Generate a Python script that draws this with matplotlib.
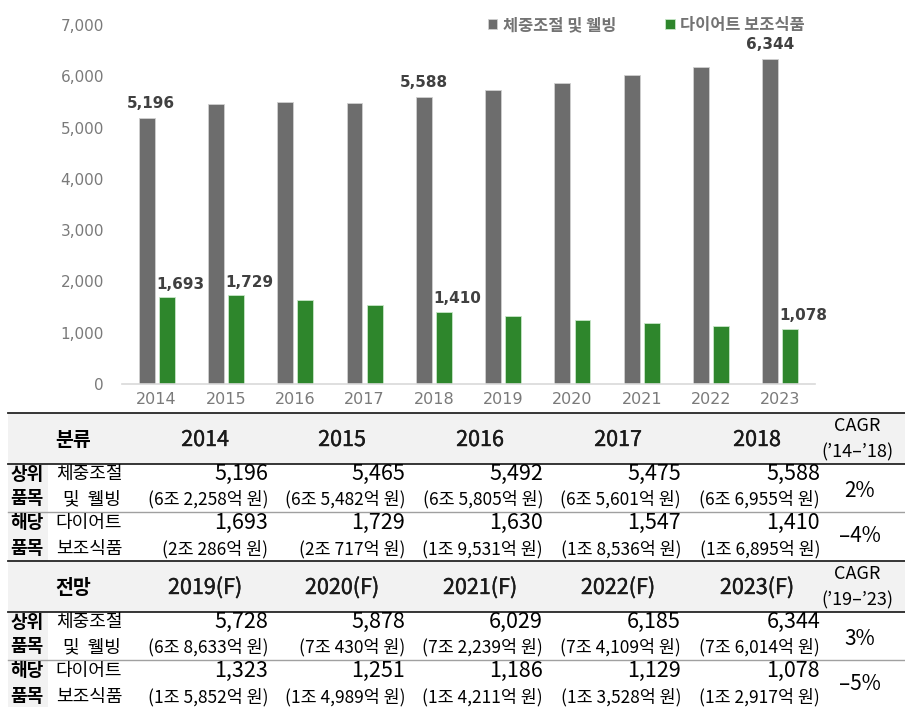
import matplotlib.pyplot as plt
import matplotlib.patheffects as pe
import numpy as np
from matplotlib.patches import Rectangle

years = [2014, 2015, 2016, 2017, 2018, 2019, 2020, 2021, 2022, 2023]
weight_mgmt = [5196, 5465, 5492, 5475, 5588, 5728, 5878, 6029, 6185, 6344]
diet_supp = [1693, 1729, 1630, 1547, 1410, 1323, 1251, 1186, 1129, 1078]
weight_won = ['6조 2,258억 원', '6조 5,482억 원', '6조 5,805억 원', '6조 5,601억 원', '6조 6,955억 원',
              '6조 8,633억 원', '7조 430억 원', '7조 2,239억 원', '7조 4,109억 원', '7조 6,014억 원']
diet_won = ['2조 286억 원', '2조 717억 원', '1조 9,531억 원', '1조 8,536억 원', '1조 6,895억 원',
            '1조 5,852억 원', '1조 4,989억 원', '1조 4,211억 원', '1조 3,528억 원', '1조 2,917억 원']
series_names = ['체중조절 및 웰빙', '다이어트 보조식품']
block_titles = ['분류', '전망']
cagr_periods = ['(’14–’18)', '(’19–’23)']
cagr_weight = ['2%', '3%']
cagr_diet = ['–4%', '–5%']
gray_labeled = [0, 4, 9]
green_labeled = [0, 1, 4, 9]

GRAY = '#6d6d6d'
GREEN = '#2e862c'
KR = 'Noto Sans CJK KR'
medium = [pe.withStroke(linewidth=0.3, foreground='#1a1a1a')]

W, H = 905, 707
fig = plt.figure(figsize=(W / 100, H / 100), dpi=100)

# ---- bar chart ----
ax = fig.add_axes([122 / W, 1 - 384 / H, (815 - 122) / W, (384 - 25) / H])
x = np.arange(len(years))
bw = 0.23
gap = 0.03
gbars = ax.bar(x - bw / 2 - gap, weight_mgmt, bw, color=GRAY, edgecolor='#d0d0d0', linewidth=0.6,
               label=series_names[0])
cbars = ax.bar(x + bw / 2 + gap, diet_supp, bw, color=GREEN, edgecolor='#c8e6c8', linewidth=0.6,
               label=series_names[1])
ax.set_xlim(-0.5, len(years) - 0.5)
ax.set_ylim(0, 7000)
ax.set_yticks(range(0, 7001, 1000))
ax.set_yticklabels([f'{v:,}' for v in range(0, 7001, 1000)])
ax.set_xticks(x)
ax.set_xticklabels([str(y) for y in years])
ax.tick_params(axis='y', length=0, pad=13, labelsize=11, labelcolor='#7a7a7a')
ax.tick_params(axis='x', length=0, pad=6, labelsize=11.5, labelcolor='#7a7a7a')
for s in ['top', 'right', 'left']:
    ax.spines[s].set_visible(False)
ax.spines['bottom'].set_color('#d9d9d9')
ax.spines['bottom'].set_linewidth(1.2)

for i in gray_labeled:
    b = gbars[i]
    ax.annotate(f'{weight_mgmt[i]:,}', (b.get_x() + b.get_width() / 2, b.get_height()),
                xytext=(3 if i == 0 else 0, 5), textcoords='offset points', ha='center', va='bottom',
                fontsize=11, fontweight='bold', color='#404040')
for i in green_labeled:
    b = cbars[i]
    ax.annotate(f'{diet_supp[i]:,}', (b.get_x(), b.get_height()),
                xytext=(-2, 4), textcoords='offset points', ha='left', va='bottom',
                fontsize=11, fontweight='bold', color='#404040')

fig.legend(handles=[gbars, cbars], labels=series_names, loc='center left',
           bbox_to_anchor=(480 / W, 1 - 25 / H), ncol=2, frameon=False, borderpad=0,
           handlelength=0.55, handleheight=0.55, handletextpad=0.35, columnspacing=3.0,
           prop=dict(family=KR, weight='bold', size=11.8), labelcolor='#737373')

# ---- table ----
tb = fig.add_axes([0, 0, 1, 1])
tb.set_xlim(0, W)
tb.set_ylim(H, 0)
tb.axis('off')
tb.patch.set_alpha(0)

hdr_cx = [205, 342, 480, 618, 757]
val_rx = [c + 63 for c in hdr_cx]
cagr_cx = 860

for blk in range(2):
    base = 413 + 148 * blk
    end = base + 148 if blk == 0 else H
    tb.add_patch(Rectangle((8, base), W - 8, 51, color='#f2f2f2', lw=0))
    tb.add_patch(Rectangle((8, base + 51), 40, end - base - 51, color='#f2f2f2', lw=0))
    tb.plot([8, W], [base, base], color='#262626', lw=1.3)
    tb.plot([8, W], [base + 51, base + 51], color='#262626', lw=1.3)
    tb.plot([8, W], [base + 99, base + 99], color='#a0a0a0', lw=1.0)

    yh = base + 27
    tb.text(73, yh, block_titles[blk], family=KR, weight='bold', fontsize=14, ha='center', va='center')
    idx = range(blk * 5, blk * 5 + 5)
    for k, i in enumerate(idx):
        lab = str(years[i]) if blk == 0 else f'{years[i]}(F)'
        tb.text(hdr_cx[k], yh, lab, family=KR, fontsize=15.5, ha='center', va='center',
                color='#1a1a1a', path_effects=medium)
        tb.text(val_rx[k], base + 61, f'{weight_mgmt[i]:,}', family=KR, fontsize=15.5, ha='right', va='center')
        tb.text(val_rx[k], base + 86, f'({weight_won[i]})', family=KR, fontsize=12.5, ha='right', va='center')
        tb.text(val_rx[k], base + 110, f'{diet_supp[i]:,}', family=KR, fontsize=15.5, ha='right', va='center')
        tb.text(val_rx[k], base + 136, f'({diet_won[i]})', family=KR, fontsize=12.5, ha='right', va='center')
    tb.text(cagr_cx - 3, base + 13, 'CAGR', family=KR, fontsize=13, ha='center', va='center')
    tb.text(cagr_cx - 3, base + 39, cagr_periods[blk], family=KR, fontsize=13, ha='center', va='center')
    tb.text(cagr_cx, base + 78, cagr_weight[blk], family=KR, fontsize=15, ha='center', va='center')
    tb.text(cagr_cx, base + 123, cagr_diet[blk], family=KR, fontsize=15, ha='center', va='center')

    tb.text(27, base + 61, '상위', family=KR, weight='bold', fontsize=13, ha='center', va='center')
    tb.text(27, base + 86, '품목', family=KR, weight='bold', fontsize=13, ha='center', va='center')
    tb.text(27, base + 110, '해당', family=KR, weight='bold', fontsize=13, ha='center', va='center')
    tb.text(27, base + 136, '품목', family=KR, weight='bold', fontsize=13, ha='center', va='center')
    tb.text(89, base + 61, '체중조절', family=KR, fontsize=13, ha='center', va='center')
    tb.text(92, base + 86, '및  웰빙', family=KR, fontsize=13, ha='center', va='center')
    tb.text(89, base + 110, '다이어트', family=KR, fontsize=13, ha='center', va='center')
    tb.text(89, base + 136, '보조식품', family=KR, fontsize=13, ha='center', va='center')

fig.savefig('out.png', dpi=100)
